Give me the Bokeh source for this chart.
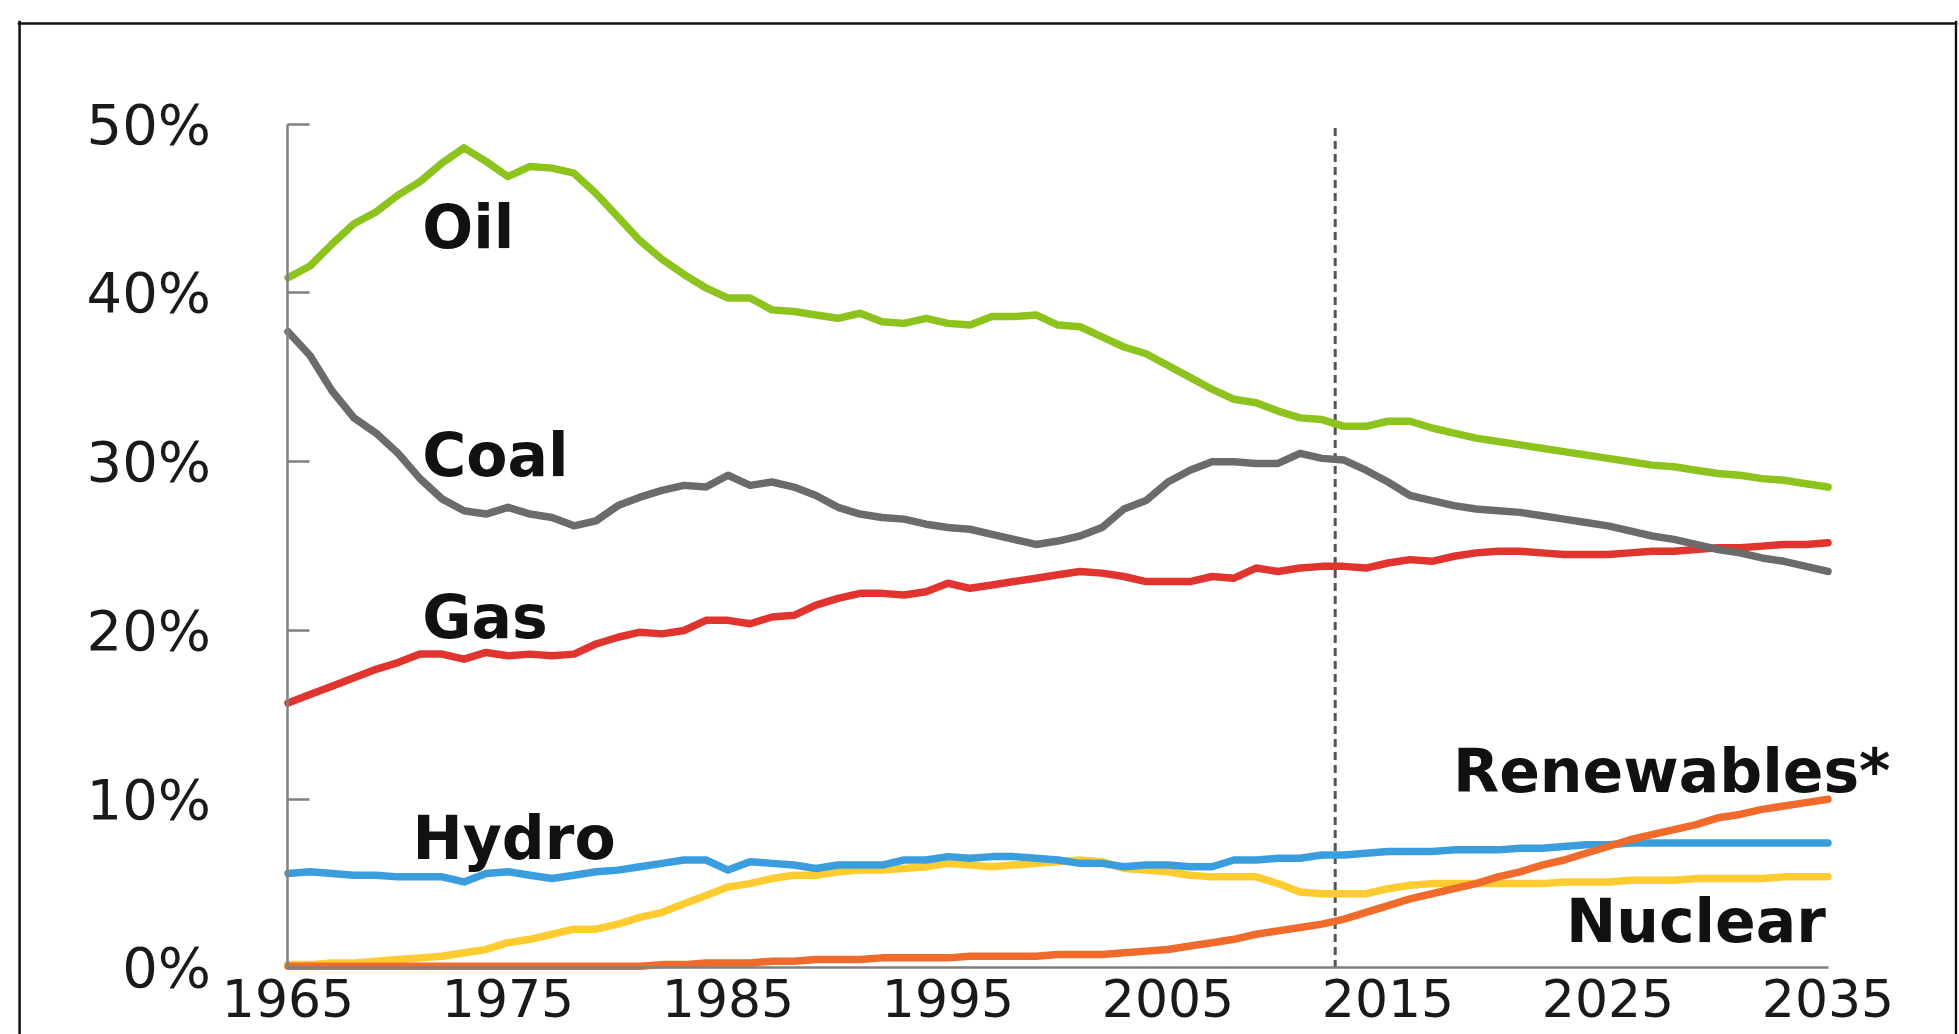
import numpy as np
from bokeh.plotting import figure
from bokeh.models import (Range1d, LinearAxis, FixedTicker, Span,
                          PrintfTickFormatter, ColumnDataSource)
from bokeh.core.properties import value
from bokeh.embed import file_html
from bokeh.resources import INLINE

# ---------------- data (share of primary energy, %) ----------------
years = list(range(1965, 2036))

oil = [40.9, 41.6, 42.9, 44.1, 44.8, 45.8, 46.6, 47.7, 48.6, 47.8,
       46.9, 47.5, 47.4, 47.1, 45.9, 44.5, 43.1, 42.0, 41.1, 40.3,
       39.7, 39.7, 39.0, 38.9, 38.7, 38.5, 38.8, 38.3, 38.2, 38.5,
       38.2, 38.1, 38.6, 38.6, 38.7, 38.1, 38.0, 37.4, 36.8, 36.4,
       35.7, 35.0, 34.3, 33.7, 33.5, 33.0, 32.6, 32.5, 32.1, 32.1,
       32.4, 32.4, 32.0, 31.7, 31.4, 31.2, 31.0, 30.8, 30.6, 30.4,
       30.2, 30.0, 29.8, 29.7, 29.5, 29.3, 29.2, 29.0, 28.9, 28.7,
       28.5]

coal = [37.7, 36.3, 34.2, 32.6, 31.7, 30.5, 29.0, 27.8, 27.1, 26.9,
        27.3, 26.9, 26.7, 26.2, 26.5, 27.4, 27.9, 28.3, 28.6, 28.5,
        29.2, 28.6, 28.8, 28.5, 28.0, 27.3, 26.9, 26.7, 26.6, 26.3,
        26.1, 26.0, 25.7, 25.4, 25.1, 25.3, 25.6, 26.1, 27.2, 27.7,
        28.8, 29.5, 30.0, 30.0, 29.9, 29.9, 30.5, 30.2, 30.1, 29.5,
        28.8, 28.0, 27.7, 27.4, 27.2, 27.1, 27.0, 26.8, 26.6, 26.4,
        26.2, 25.9, 25.6, 25.4, 25.1, 24.8, 24.6, 24.3, 24.1, 23.8,
        23.5]

gas = [15.7, 16.2, 16.7, 17.2, 17.7, 18.1, 18.6, 18.6, 18.3, 18.7,
       18.5, 18.6, 18.5, 18.6, 19.2, 19.6, 19.9, 19.8, 20.0, 20.6,
       20.6, 20.4, 20.8, 20.9, 21.5, 21.9, 22.2, 22.2, 22.1, 22.3,
       22.8, 22.5, 22.7, 22.9, 23.1, 23.3, 23.5, 23.4, 23.2, 22.9,
       22.9, 22.9, 23.2, 23.1, 23.7, 23.5, 23.7, 23.8, 23.8, 23.7,
       24.0, 24.2, 24.1, 24.4, 24.6, 24.7, 24.7, 24.6, 24.5, 24.5,
       24.5, 24.6, 24.7, 24.7, 24.8, 24.9, 24.9, 25.0, 25.1, 25.1,
       25.2]

hydro = [5.6, 5.7, 5.6, 5.5, 5.5, 5.4, 5.4, 5.4, 5.1, 5.6,
         5.7, 5.5, 5.3, 5.5, 5.7, 5.8, 6.0, 6.2, 6.4, 6.4,
         5.8, 6.3, 6.2, 6.1, 5.9, 6.1, 6.1, 6.1, 6.4, 6.4,
         6.6, 6.5, 6.6, 6.6, 6.5, 6.4, 6.2, 6.2, 6.0, 6.1,
         6.1, 6.0, 6.0, 6.4, 6.4, 6.5, 6.5, 6.7, 6.7, 6.8,
         6.9, 6.9, 6.9, 7.0, 7.0, 7.0, 7.1, 7.1, 7.2, 7.3,
         7.3, 7.4, 7.4, 7.4, 7.4, 7.4, 7.4, 7.4, 7.4, 7.4,
         7.4]

nuclear = [0.2, 0.2, 0.3, 0.3, 0.4, 0.5, 0.6, 0.7, 0.9, 1.1,
           1.5, 1.7, 2.0, 2.3, 2.3, 2.6, 3.0, 3.3, 3.8, 4.3,
           4.8, 5.0, 5.3, 5.5, 5.5, 5.7, 5.8, 5.8, 5.9, 6.0,
           6.2, 6.1, 6.0, 6.1, 6.2, 6.3, 6.4, 6.3, 5.9, 5.8,
           5.7, 5.5, 5.4, 5.4, 5.4, 5.0, 4.5, 4.4, 4.4, 4.4,
           4.7, 4.9, 5.0, 5.0, 5.0, 5.0, 5.0, 5.0, 5.1, 5.1,
           5.1, 5.2, 5.2, 5.2, 5.3, 5.3, 5.3, 5.3, 5.4, 5.4,
           5.4]

renewables = [0.1, 0.1, 0.1, 0.1, 0.1, 0.1, 0.1, 0.1, 0.1, 0.1,
              0.1, 0.1, 0.1, 0.1, 0.1, 0.1, 0.1, 0.2, 0.2, 0.3,
              0.3, 0.3, 0.4, 0.4, 0.5, 0.5, 0.5, 0.6, 0.6, 0.6,
              0.6, 0.7, 0.7, 0.7, 0.7, 0.8, 0.8, 0.8, 0.9, 1.0,
              1.1, 1.3, 1.5, 1.7, 2.0, 2.2, 2.4, 2.6, 2.9, 3.3,
              3.7, 4.1, 4.4, 4.7, 5.0, 5.4, 5.7, 6.1, 6.4, 6.8,
              7.2, 7.6, 7.9, 8.2, 8.5, 8.9, 9.1, 9.4, 9.6, 9.8,
              10.0]

forecast_start = 2012.6          # dashed divider between history and outlook
year_ticks = [1965, 1975, 1985, 1995, 2005, 2015, 2025, 2035]
pct_ticks = [0, 10, 20, 30, 40, 50]

series_names = ["Oil", "Coal", "Gas", "Hydro", "Renewables*", "Nuclear"]

# ---------------- styling / layout ----------------
colors = {
    "Oil": "#8cc31d",
    "Coal": "#6b6b6b",
    "Gas": "#e1342f",
    "Hydro": "#3a9ede",
    "Nuclear": "#fecc30",
    "Renewables*": "#f06b2b",
}

W, H = 1959, 1034
p = figure(width=W, height=H,
           x_range=Range1d(1952.705, 2040.886),
           y_range=Range1d(-3.941, 56.148),
           output_backend="svg", toolbar_location=None,
           x_axis_location=None, y_axis_location=None,
           min_border_left=17, min_border_right=2,
           min_border_top=20, min_border_bottom=0)
p.outline_line_color = None
p.background_fill_color = "white"
p.border_fill_color = "white"
p.xgrid.grid_line_color = None
p.ygrid.grid_line_color = None

axis_gray = "#808080"

yaxis = LinearAxis(fixed_location=1965, bounds=(0, 50),
                   ticker=FixedTicker(ticks=pct_ticks),
                   formatter=PrintfTickFormatter(format="%d%%"))
yaxis.major_tick_in = 22
yaxis.major_tick_out = 0
yaxis.minor_tick_in = 0
yaxis.minor_tick_out = 0
yaxis.axis_line_color = axis_gray
yaxis.axis_line_width = 2.5
yaxis.major_tick_line_color = axis_gray
yaxis.major_tick_line_width = 2.5
yaxis.major_label_standoff = 77
yaxis.major_label_text_font = "DejaVu Sans"
yaxis.major_label_text_font_size = "56px"
yaxis.major_label_text_color = "#1a1a1a"
p.add_layout(yaxis, "left")

xaxis = LinearAxis(fixed_location=0, bounds=(1965, 2035),
                   ticker=FixedTicker(ticks=year_ticks))
xaxis.major_tick_in = 0
xaxis.major_tick_out = 0
xaxis.minor_tick_in = 0
xaxis.minor_tick_out = 0
xaxis.axis_line_color = axis_gray
xaxis.axis_line_width = 2.5
xaxis.major_label_standoff = 11
xaxis.major_label_text_font = "DejaVu Sans"
xaxis.major_label_text_font_size = "52px"
xaxis.major_label_text_color = "#1a1a1a"
p.add_layout(xaxis, "below")

# outer frame (top, left, right)
for loc, dim in [(1952.8, "height"), (2040.82, "height"), (55.97, "width")]:
    p.add_layout(Span(location=loc, dimension=dim, line_color="#111111",
                      line_width=2.5))

# forecast divider
p.segment(x0=[forecast_start], y0=[0], x1=[forecast_start], y1=[50],
          line_color="#555555", line_width=3, line_dash="8 5")

lw = 7.5
src = ColumnDataSource(dict(year=years, oil=oil, coal=coal, gas=gas,
                            hydro=hydro, nuclear=nuclear,
                            renewables=renewables))
for col, name in [("nuclear", "Nuclear"), ("hydro", "Hydro"), ("gas", "Gas"),
                  ("coal", "Coal"), ("oil", "Oil"), ("renewables", "Renewables*")]:
    p.line("year", col, source=src, line_color=colors[name], line_width=lw,
           line_join="round", line_cap="round")

# series labels
label_x = [1971.1, 1971.1, 1971.1, 1970.66, 2037.84, 2034.9]
label_y = [43.9, 30.4, 20.8, 7.7, 11.67, 2.81]
label_align = ["left", "left", "left", "left", "right", "right"]
lab = ColumnDataSource(dict(x=label_x, y=label_y, t=series_names, a=label_align))
p.text(x="x", y="y", text="t", text_align="a", source=lab,
       text_baseline="middle", text_font=value("DejaVu Sans"),
       text_font_style="bold", text_font_size="60px", text_color="#111111")

open("out.html", "w").write(file_html(p, INLINE))
